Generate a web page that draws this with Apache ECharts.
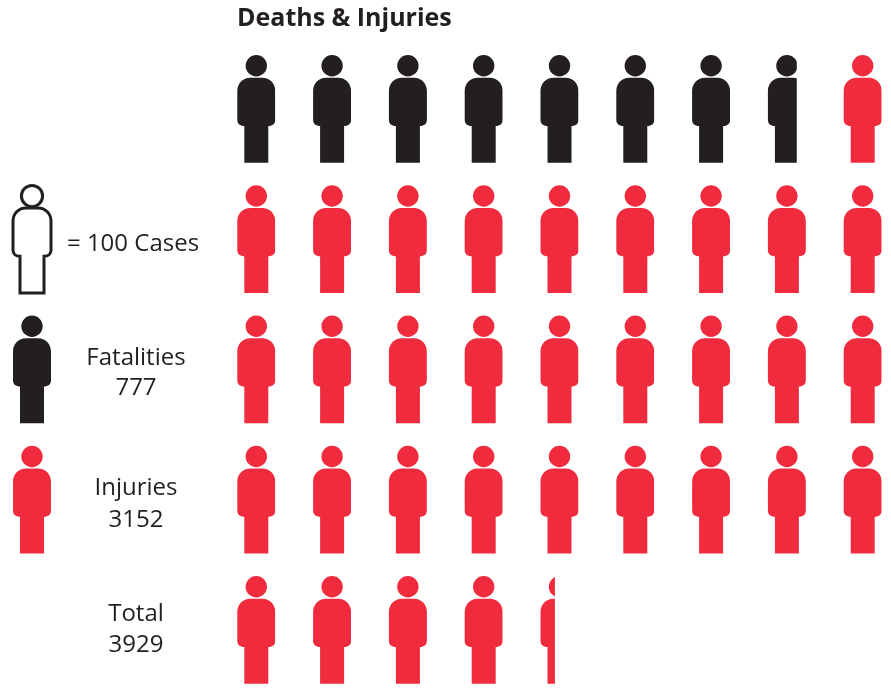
<!DOCTYPE html>
<html>
<head>
<meta charset="utf-8">
<style>html,body{margin:0;padding:0;background:#fff}#c{width:891px;height:688px}</style>
<script src="https://cdn.jsdelivr.net/npm/echarts@6/dist/echarts.min.js"></script>
</head>
<body>
<div id="c"></div>
<script>
// --- data -----------------------------------------------------------------
const titleText = 'Deaths & Injuries';
const rows = ['Row 1', 'Row 2', 'Row 3', 'Row 4', 'Row 5'];
const columns = ['1', '2', '3', '4', '5', '6', '7', '8', '9'];
// share of each icon that is drawn, per row
const fatalityFill = [1, 1, 1, 1, 1, 1, 1, 0.76, 0];
const injuryFillRow1 = [0, 0, 0, 0, 0, 0, 0, 0, 1];
const injuryFillRow2 = [1, 1, 1, 1, 1, 1, 1, 1, 1];
const injuryFillRow3 = [1, 1, 1, 1, 1, 1, 1, 1, 1];
const injuryFillRow4 = [1, 1, 1, 1, 1, 1, 1, 1, 1];
const injuryFillRow5 = [1, 1, 1, 1, 0.38, 0, 0, 0, 0];
const keyCases = '= 100 Cases';
const keyNames = ['Fatalities', 'Injuries', 'Total'];
const keyValues = ['777', '3152', '3929'];

// --- style and layout -------------------------------------------------------
const BLACK = '#231f20';
const RED = '#ef2b3d';
const FONT = '"Open Sans", "Noto Sans", sans-serif';
const ICON_W = 38;
const ROW_H = 130.25, TOP = 109 - ROW_H / 2;
const BODY = 'M-6 -31.3H6C13.5 -31.3 19 -25.5 19 -18V11C19 14.8 16.2 17 12 17V53.7H-12V17C-16.2 17 -19 14.8 -19 11V-18C-19 -25.5 -13.5 -31.3 -6 -31.3Z';
const PERSON = 'M-10.7 -43.3a10.7 10.7 0 1 0 21.4 0a10.7 10.7 0 1 0 -21.4 0Z' + BODY;

function iconItem(api) {
  const p = api.coord([api.value(0), api.value(1)]);
  const fill = api.value(2);
  if (!fill) return null;
  return {
    type: 'path', x: p[0], y: p[1],
    shape: { pathData: PERSON, x: -19, y: -54, width: 38, height: 107.7, layout: 'cover' },
    style: { fill: api.visual('color') },
    clipPath: { type: 'rect', shape: { x: -ICON_W / 2 - 1, y: -60, width: ICON_W * fill + 1, height: 120 } }
  };
}
function outlineItem(api) {
  const p = api.coord([api.value(0), api.value(1)]);
  const style = { fill: '#fff', stroke: BLACK, lineWidth: 3 };
  return {
    type: 'group', x: p[0], y: p[1],
    children: [
      { type: 'path', shape: { pathData: BODY, x: -19, y: -31.3, width: 38, height: 85, layout: 'cover' }, style },
      { type: 'circle', shape: { cx: 0, cy: -43.2, r: 10.6 }, style }
    ]
  };
}
const fatalityData = fatalityFill.map((v, i) => [i, 0, v]);
const injuryRows = [injuryFillRow1, injuryFillRow2, injuryFillRow3, injuryFillRow4, injuryFillRow5];
const injuryData = injuryRows.flatMap((r, y) => r.map((v, x) => [x, y, v]));

const keyText = (text, x, y) => ({
  type: 'text', x, y,
  style: { text, x: 0, y: 0, fill: BLACK, font: '24px ' + FONT, textAlign: 'center', textVerticalAlign: 'middle' }
});
const keyYs = [[358, 388], [488, 520], [614, 645]];
const graphicText = [keyText(keyCases, 133, 244)];
keyNames.forEach((n, i) => {
  graphicText.push(keyText(n, 136, keyYs[i][0]));
  graphicText.push(keyText(keyValues[i], 136, keyYs[i][1]));
});

const hiddenCat = (data, gridIndex, inverse) => ({
  type: 'category', data, gridIndex, inverse, show: false
});
const chart = echarts.init(document.getElementById('c'), null, { renderer: 'canvas' });
chart.setOption({
  animation: false,
  backgroundColor: '#fff',
  title: {
    text: titleText, left: 232, top: 1,
    textStyle: { fontFamily: FONT, fontSize: 25, fontWeight: 'bold', color: BLACK }
  },
  grid: [
    { left: 218.4, top: TOP, width: 682.2, height: ROW_H * rows.length, outerBoundsMode: 'none' },
    { left: -5.9, top: TOP, width: 75.8, height: ROW_H * rows.length, outerBoundsMode: 'none' }
  ],
  xAxis: [hiddenCat(columns, 0, false), hiddenCat(['key'], 1, false)],
  yAxis: [hiddenCat(rows, 0, true), hiddenCat(rows, 1, true)],
  graphic: graphicText,
  series: [
    { name: 'Fatalities', type: 'custom', xAxisIndex: 0, yAxisIndex: 0, clip: false, itemStyle: { color: BLACK }, renderItem: (_, api) => iconItem(api), data: fatalityData, encode: { x: 0, y: 1 } },
    { name: 'Injuries', type: 'custom', xAxisIndex: 0, yAxisIndex: 0, clip: false, itemStyle: { color: RED }, renderItem: (_, api) => iconItem(api), data: injuryData, encode: { x: 0, y: 1 } },
    { name: 'Key outline', type: 'custom', xAxisIndex: 1, yAxisIndex: 1, clip: false, renderItem: (_, api) => outlineItem(api), data: [[0, 1, 1]], encode: { x: 0, y: 1 } },
    { name: 'Key fatalities', type: 'custom', xAxisIndex: 1, yAxisIndex: 1, clip: false, itemStyle: { color: BLACK }, renderItem: (_, api) => iconItem(api), data: [[0, 2, 1]], encode: { x: 0, y: 1 } },
    { name: 'Key injuries', type: 'custom', xAxisIndex: 1, yAxisIndex: 1, clip: false, itemStyle: { color: RED }, renderItem: (_, api) => iconItem(api), data: [[0, 3, 1]], encode: { x: 0, y: 1 } }
  ]
});
</script>
</body>
</html>
